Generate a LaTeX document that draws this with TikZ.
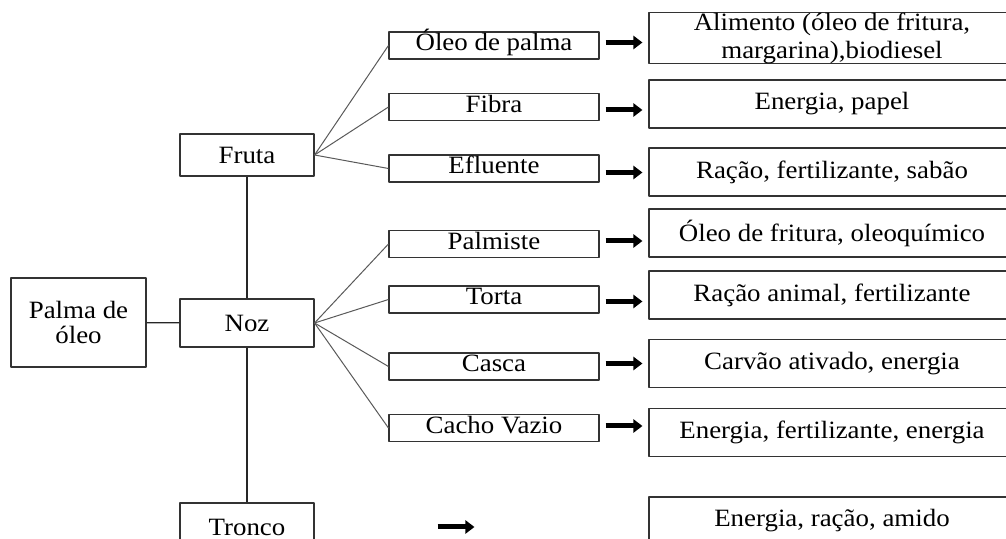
\documentclass[tikz,border=0pt]{standalone}
\usepackage{fontspec}
\setmainfont{Liberation Serif}[FakeStretch=1.08]
\usetikzlibrary{arrows.meta}
\begin{document}
\begin{tikzpicture}[>={Triangle[length=9bp,width=13bp]},line join=bevel,
  every node/.style={font=\fontsize{25}{28}\selectfont,inner sep=0pt},
  box/.style={draw=black!80,line width=1.1bp},
  midbox/.style={box,minimum width=210bp,minimum height=27bp,text height=17bp,text depth=6bp},
  outbox/.style={box,minimum width=366bp,minimum height=48bp},
  stem/.style={black!85,line width=1.1bp},
  fan/.style={black!65,line width=1bp},
  fat/.style={black,line width=5bp,->,shorten <=6bp,shorten >=6bp},
]
\clip (0bp,0bp) rectangle (1006bp,539bp);
\useasboundingbox (0bp,0bp) rectangle (1006bp,539bp);
%%
\node (node_0) at (78.5bp,216.5bp) [box,align=center,minimum width=135bp,minimum height=89bp,font=\fontsize{25}{26}\selectfont] {Palma de\\óleo};
  \node (node_1) at (247bp,384bp) [box,minimum width=134bp,minimum height=42bp] {Fruta};
  \node (node_2) at (247bp,216bp) [box,minimum width=134bp,minimum height=48bp] {Noz};
  \node (node_3) at (247bp,12bp) [box,minimum width=134bp,minimum height=48bp] {Tronco};
%
\node (node_4) at (494bp,493.5bp) [midbox] {Óleo de palma};
  \node (node_5) at (494bp,432bp) [midbox] {Fibra};
  \node (node_6) at (494bp,370.5bp) [midbox] {Efluente};
  \node (node_7) at (494bp,295bp) [midbox] {Palmiste};
  \node (node_8) at (494bp,239.5bp) [midbox] {Torta};
  \node (node_9) at (494bp,172.5bp) [midbox] {Casca};
  \node (node_10) at (494bp,111bp) [midbox] {Cacho Vazio};
%
\node (node_11) at (832bp,501bp) [outbox,align=center] {Alimento (óleo de fritura,\\margarina),biodiesel};
  \node (node_12) at (832bp,435bp) [outbox] {Energia, papel};
  \node (node_13) at (832bp,367bp) [outbox] {Ração, fertilizante, sabão};
  \node (node_14) at (832bp,306bp) [outbox] {Óleo de fritura, oleoquímico};
  \node (node_15) at (832bp,244bp) [outbox] {Ração animal, fertilizante};
  \node (node_16) at (832bp,175.5bp) [outbox] {Carvão ativado, energia};
  \node (node_17) at (832bp,106.5bp) [outbox] {Energia, fertilizante, energia};
  \node (node_18) at (832bp,18bp) [outbox] {Energia, ração, amido};
%
\draw [stem] (node_0) -- (node_2);
  \draw [stem] (node_1) -- (node_2);
  \draw [stem] (node_2) -- (node_3);
%
\foreach \n in {4,5,6} \draw [fan] (node_1.east) -- (node_\n.west);
  \foreach \n in {7,8,9,10} \draw [fan] (node_2.east) -- (node_\n.west);
%
\draw [fat] ([yshift=3bp]node_4.east) -- ([yshift=3bp]node_4.east -| node_11.west);
  \draw [fat] ([yshift=-3bp]node_5.east) -- ([yshift=-3bp]node_5.east -| node_12.west);
  \draw [fat] ([yshift=-4bp]node_6.east) -- ([yshift=-4bp]node_6.east -| node_13.west);
  \draw [fat] ([yshift=3bp]node_7.east) -- ([yshift=3bp]node_7.east -| node_14.west);
  \draw [fat] ([yshift=-2bp]node_8.east) -- ([yshift=-2bp]node_8.east -| node_15.west);
  \draw [fat] ([yshift=3bp]node_9.east) -- ([yshift=3bp]node_9.east -| node_16.west);
  \draw [fat] ([yshift=2bp]node_10.east) -- ([yshift=2bp]node_10.east -| node_17.west);
  \draw [fat,shorten <=123bp,shorten >=174bp] (node_3.east) -- (node_3.east -| node_18.west);
%
\end{tikzpicture}
\end{document}
